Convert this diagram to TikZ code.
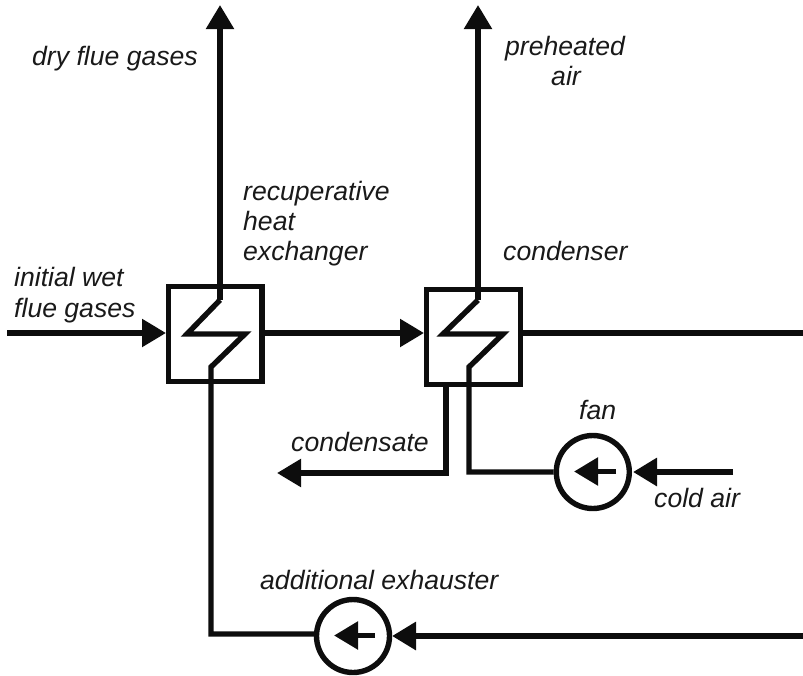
\documentclass[tikz,border=0pt]{standalone}
\usepackage{fontspec}
\setmainfont{Liberation Sans}
\usetikzlibrary{arrows.meta}
\tikzset{
  x=1pt,y=-1pt,
  ink/.style={line width=5.4pt,draw=black!95,line join=miter},
  flow/.style={ink,-{Triangle[length=24pt,width=27pt]}},
  thickflow/.style={flow,line width=6.2pt},
  exch/.style={draw=black!95,line width=5.4pt,rectangle,inner sep=0pt,minimum width=93.5pt,minimum height=95pt},
  pump/.style={draw=black!95,line width=5.4pt,circle,inner sep=0pt,minimum size=73pt},
  lab/.style={font=\itshape\fontsize{26.6}{30}\selectfont,text=black!90,inner sep=0pt},
}
\begin{document}
\begin{tikzpicture}
\useasboundingbox (0,0) rectangle (803,675);
% equipment
\node[exch] (rec) at (215.3,334) {};
\node[exch] (con) at (473.5,336.7) {};
\node[pump] (fan) at (592.8,472) {};
\node[pump] (exh) at (353,636) {};
% free ends and bends
\coordinate (wetin) at (7,333);
\coordinate (recin) at (166,333);
\coordinate (recout) at (264,333);
\coordinate (conin) at (424,333);
\coordinate (conout) at (522,333);
\coordinate (exit) at (803,333);
\coordinate (drytop) at (220,5);
\coordinate (airtop) at (478,5);
\coordinate (r1) at (220,300);
\coordinate (r2) at (187,334);
\coordinate (r3) at (245,334);
\coordinate (r4) at (211,367);
\coordinate (rb) at (211,634);
\coordinate (c1) at (478,300);
\coordinate (c2) at (443,334);
\coordinate (c3) at (503,334);
\coordinate (c4) at (469,367);
\coordinate (cb) at (469,472);
\coordinate (dt) at (446,473);
\coordinate (dend) at (277,473);
\coordinate (cold) at (733,472);
\coordinate (fanin) at (633,472);
\coordinate (fa) at (574,471.5);
\coordinate (fb) at (616,471.5);
\coordinate (back) at (803,636);
\coordinate (exhin) at (392,636);
\coordinate (ea) at (334,635.5);
\coordinate (eb) at (375,635.5);
% stream lines
\draw[flow] (wetin) -- (recin);
\draw[flow] (recout) -- (conin);
\draw[ink] (conout) -- (exit);
\draw[flow] (r1) -- (drytop);
\draw[flow] (c1) -- (airtop);
\draw[ink] (r1) -- (r2) -- (r3) -- (r4) -- (rb) -- (rb -| exh.west);
\draw[ink] (c1) -- (c2) -- (c3) -- (c4) -- (cb) -- (fan.west);
\draw[flow] (dt |- con.south) -- (dt) -- (dend);
\draw[thickflow] (cold) -- (fanin);
\draw[thickflow] (back) -- (exhin);
\draw[flow] (fb) -- (fa);
\draw[flow] (eb) -- (ea);
% labels
\node[lab,anchor=base west] (l1) at (32,65) {dry flue gases};
\node[lab,anchor=base] (l2) at (565,55) {preheated};
\node[lab,anchor=base] (l3) at (566,85) {air};
\node[lab,anchor=base west] (l4) at (243,200) {recuperative};
\node[lab,anchor=base west] (l5) at (243,230) {heat};
\node[lab,anchor=base west] (l6) at (243,260) {exchanger};
\node[lab,anchor=base west] (l7) at (503,260) {condenser};
\node[lab,anchor=base west] (l8) at (14,286) {initial wet};
\node[lab,anchor=base west] (l9) at (14,317) {flue gases};
\node[lab,anchor=base west] (l10) at (291,451) {condensate};
\node[lab,anchor=base west] (l11) at (579,419) {fan};
\node[lab,anchor=base west] (l12) at (654,507) {cold air};
\node[lab,anchor=base west] (l13) at (260,589) {additional exhauster};
\end{tikzpicture}
\end{document}
